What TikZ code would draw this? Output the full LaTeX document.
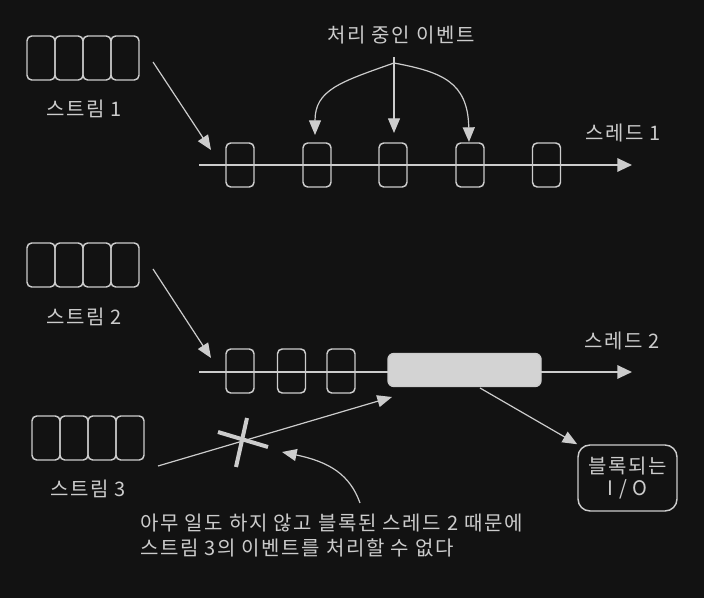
\documentclass[tikz,border=0pt]{standalone}
\usepackage{fontspec}
\setmainfont{Noto Sans CJK KR}
\usetikzlibrary{arrows.meta}
\definecolor{bg}{RGB}{18,18,18}
\definecolor{fg}{RGB}{204,204,204}
\definecolor{blk}{RGB}{211,211,211}
\begin{document}
\begin{tikzpicture}[x=0.75pt,y=-0.75pt,
  lbl/.style={font=\fontsize{15}{18.75}\selectfont\addfontfeature{LetterSpace=8}, text=fg, inner sep=0pt},
  cell/.style={draw=fg, line width=1.1pt, rounded corners=3.5pt, minimum width=21pt, minimum height=33pt, inner sep=0pt},
  blockbox/.style={draw=fg, fill=blk, line width=1.1pt, rounded corners=4.5pt, minimum width=114.75pt, minimum height=24.75pt, inner sep=0pt},
  iobox/.style={draw=fg, line width=1.1pt, rounded corners=9pt, minimum width=74.25pt, minimum height=49.5pt, inner sep=0pt, align=center, font=\fontsize{15}{16.5}\selectfont\addfontfeature{LetterSpace=8}, text=fg},
  arr/.style={draw=fg, line width=0.9pt, -{Triangle[length=11pt,width=9pt]}},
  thr/.style={draw=fg, line width=1.6pt, -{Triangle[length=11pt,width=10pt]}},
  crossline/.style={draw=fg, line width=3pt}
]
\fill[bg] (0,0) rectangle (704,598);
\useasboundingbox (0,0) rectangle (704,598);

% thread lines
\coordinate (t1s) at (199,165);
\coordinate (t1e) at (632,165);
\coordinate (t2s) at (199,372);
\coordinate (t2e) at (632,372);
\draw[thr] (t1s) -- (t1e);
\draw[thr] (t2s) -- (t2e);

% stream 1
\node[cell] (s1a) at (41,58) {};
\node[cell] (s1b) at (69,58) {};
\node[cell] (s1c) at (97,58) {};
\node[cell] (s1d) at (125,58) {};
\node[lbl] (s1l) at (84,109) {스트림 1};

% stream 2
\node[cell] (s2a) at (41,265) {};
\node[cell] (s2b) at (69,265) {};
\node[cell] (s2c) at (97,265) {};
\node[cell] (s2d) at (125,265) {};
\node[lbl] (s2l) at (84,317) {스트림 2};

% stream 3
\node[cell] (s3a) at (46,438) {};
\node[cell] (s3b) at (74,438) {};
\node[cell] (s3c) at (102,438) {};
\node[cell] (s3d) at (130,438) {};
\node[lbl] (s3l) at (88,489) {스트림 3};

% thread 1 events
\node[cell] (e1) at (240,165) {};
\node[cell] (e2) at (317,165) {};
\node[cell] (e3) at (393,165) {};
\node[cell] (e4) at (470,165) {};
\node[cell] (e5) at (546.5,165) {};
\node[lbl] (t1l) at (623,133) {스레드 1};

% thread 2 events
\node[cell] (f1) at (240,371) {};
\node[cell] (f2) at (291.5,371) {};
\node[cell] (f3) at (341,371) {};
\node[blockbox] (blk) at (464.5,370) {};
\node[lbl] (t2l) at (622,341) {스레드 2};

% processing label
\node[lbl] (proc) at (401,35) {처리 중인 이벤트};
\coordinate (ps) at (394,57);
\coordinate (pb) at (394,63);
\draw[arr] (ps) -- (394,133);
\draw[arr] (pb) .. controls (340,82) and (315,90) .. (315,135);
\draw[arr] (pb) .. controls (442,72) and (468,82) .. (469,142);

% stream arrows
\coordinate (a1s) at (153,62);
\coordinate (a1e) at (211,150);
\draw[arr] (a1s) -- (a1e);
\coordinate (a2s) at (153,269);
\coordinate (a2e) at (211,358);
\draw[arr] (a2s) -- (a2e);
\coordinate (a3s) at (158,466);
\coordinate (a3e) at (392,397);
\draw[arr] (a3s) -- (a3e);

% cross
\draw[crossline] (218,432) -- (268,447);
\draw[crossline] (247,418) -- (236,467);

% blocked IO
\node[iobox] (io) at (627.5,478) {블록되는\\I / O};
\coordinate (bs) at (480,388);
\draw[arr] (bs) -- (io.north west);

% note
\node[lbl, align=left, anchor=west] (note) at (140,535.5) {아무 일도 하지 않고 블록된 스레드 2 때문에\\스트림 3의 이벤트를 처리할 수 없다};
\coordinate (ns) at (360,503);
\draw[arr] (ns) .. controls (350,475) and (330,462) .. (282,452);
\end{tikzpicture}
\end{document}
